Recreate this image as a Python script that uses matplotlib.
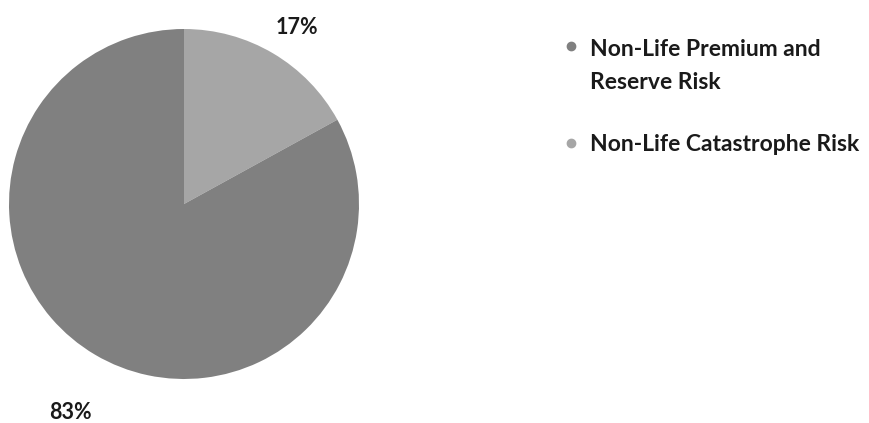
import matplotlib
matplotlib.use("Agg")
import matplotlib.pyplot as plt
from matplotlib.lines import Line2D

labels = ["Non-Life Catastrophe Risk", "Non-Life Premium and\nReserve Risk"]
values = [17, 83]
colors = ["#a6a6a6", "#808080"]
pct_text = ["17%", "83%"]

plt.rcParams['font.family'] = ['Lato', 'DejaVu Sans']

W, H = 870, 423
fig = plt.figure(figsize=(8.7, 4.23), dpi=100)
ax = fig.add_axes([9 / W, 44 / H, 350 / W, 350 / H])
ax.pie(values, colors=colors, startangle=90, counterclock=False,
       wedgeprops=dict(linewidth=0))
ax.set_xlim(-1, 1)
ax.set_ylim(-1, 1)
ax.set_aspect("equal")

# percentage labels placed outside the pie
ax.text(0.646, 1.011, pct_text[0], ha="center", va="center", fontsize=15.5,
        fontweight="bold", color="#1a1a1a", clip_on=False)
ax.text(-0.651, -1.189, pct_text[1], ha="center", va="center", fontsize=15.5,
        fontweight="bold", color="#1a1a1a", clip_on=False)

# legend: marker aligned with the first line of each label
# (text y = baseline of the last line)
legend_items = [(labels[1], colors[1], 89, 46), (labels[0], colors[0], 151, 143)]
for text, col, base_y, mark_y in legend_items:
    fig.add_artist(Line2D([571 / W], [1 - mark_y / H], transform=fig.transFigure,
                          marker="o", markersize=6, linestyle="",
                          markerfacecolor=col, markeredgecolor=col))
    fig.text(590 / W, 1 - base_y / H, text, ha="left", va="baseline",
             fontsize=16.5, fontweight="bold", color="#1a1a1a",
             linespacing=1.72)

fig.savefig("out.png", dpi=100)
